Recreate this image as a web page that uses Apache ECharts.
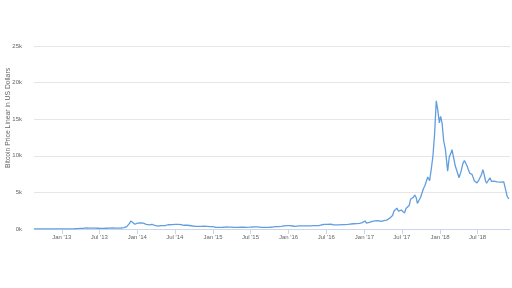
<!DOCTYPE html>
<html><head><meta charset="utf-8">
<script src="https://cdn.jsdelivr.net/npm/echarts@6/dist/echarts.min.js"></script>
<style>html,body{margin:0;padding:0;background:#fff}#c{width:512px;height:288px}</style>
</head><body><div id="c"></div>
<script>
const dates = [
 '2012-08-20','2012-09-03','2012-09-17','2012-10-01','2012-10-15','2012-10-29','2012-11-12','2012-11-26','2012-12-10','2012-12-24',
 '2013-01-07','2013-01-21','2013-02-04','2013-02-18','2013-03-04','2013-03-18','2013-04-01','2013-04-08','2013-04-15','2013-04-29',
 '2013-05-13','2013-05-27','2013-06-10','2013-06-24','2013-07-08','2013-07-22','2013-08-05','2013-08-19','2013-09-02','2013-09-16',
 '2013-09-30','2013-10-14','2013-10-28','2013-11-04','2013-11-11','2013-11-18','2013-11-25','2013-11-30','2013-12-05','2013-12-10',
 '2013-12-16','2013-12-20','2013-12-26',
 '2014-01-02','2014-01-09','2014-01-16','2014-01-23','2014-01-30','2014-02-06','2014-02-13','2014-02-20','2014-02-27','2014-03-06',
 '2014-03-13','2014-03-20','2014-03-27','2014-04-03','2014-04-10','2014-04-17','2014-04-24','2014-05-01','2014-05-15','2014-05-29',
 '2014-06-05','2014-06-19','2014-07-03','2014-07-17','2014-07-31','2014-08-14','2014-08-28','2014-09-11','2014-09-25','2014-10-09',
 '2014-10-23','2014-11-06','2014-11-20','2014-12-04','2014-12-18',
 '2015-01-01','2015-01-08','2015-01-15','2015-01-22','2015-02-05','2015-02-19','2015-03-05','2015-03-19','2015-04-02','2015-04-16',
 '2015-04-30','2015-05-14','2015-05-28','2015-06-11','2015-06-25','2015-07-09','2015-07-23','2015-08-06','2015-08-20','2015-09-03',
 '2015-09-17','2015-10-01','2015-10-15','2015-10-29','2015-11-05','2015-11-12','2015-11-26','2015-12-10','2015-12-24',
 '2016-01-07','2016-01-21','2016-02-04','2016-02-18','2016-03-03','2016-03-17','2016-03-31','2016-04-14','2016-04-28','2016-05-12',
 '2016-05-26','2016-06-09','2016-06-16','2016-06-23','2016-07-07','2016-07-21','2016-08-04','2016-08-18','2016-09-01','2016-09-15',
 '2016-09-29','2016-10-13','2016-10-27','2016-11-10','2016-11-24','2016-12-08','2016-12-22',
 '2017-01-04','2017-01-11','2017-01-18','2017-01-25','2017-02-01','2017-02-08','2017-02-15','2017-02-22','2017-03-01','2017-03-08',
 '2017-03-15','2017-03-22','2017-03-29','2017-04-05','2017-04-12','2017-04-19','2017-04-26','2017-05-03','2017-05-10','2017-05-17',
 '2017-05-24','2017-05-31','2017-06-07','2017-06-14','2017-06-21','2017-06-28','2017-07-05','2017-07-14','2017-07-21','2017-07-28',
 '2017-08-05','2017-08-12','2017-08-19','2017-08-26','2017-09-01','2017-09-08','2017-09-14','2017-09-21','2017-09-29','2017-10-06',
 '2017-10-13','2017-10-20','2017-10-27','2017-11-03','2017-11-12','2017-11-20','2017-11-28','2017-12-06','2017-12-14','2017-12-21',
 '2017-12-29',
 '2018-01-04','2018-01-11','2018-01-19','2018-01-27','2018-02-07','2018-02-15','2018-02-22','2018-02-28','2018-03-08','2018-03-16',
 '2018-03-24','2018-04-03','2018-04-13','2018-04-21','2018-04-29','2018-05-12','2018-05-18','2018-05-25','2018-06-05','2018-06-16',
 '2018-06-29','2018-07-06','2018-07-12','2018-07-20','2018-07-27','2018-08-02','2018-08-09','2018-08-14','2018-08-20','2018-08-30',
 '2018-09-07','2018-09-13','2018-09-18','2018-09-26','2018-10-04','2018-10-12','2018-10-20','2018-10-28','2018-11-05','2018-11-13',
 '2018-11-21','2018-11-29'
];
const prices = [
 10.5,10.6,11.9,12.4,11.8,10.8,11,12.3,13.4,13.4,
 13.6,17,20,26,35,47,93,185,90,140,
 115,130,108,104,76,90,105,116,143,126,
 125,139,190,220,330,600,800,1100,1050,900,
 700,650,760,
 800,860,830,810,800,760,640,580,560,660,
 630,590,480,450,400,500,460,450,450,580,
 650,600,640,620,590,510,510,480,410,360,
 360,345,380,370,320,
 315,285,210,230,220,240,270,255,250,222,
 235,238,237,230,243,270,277,280,230,230,
 232,238,255,315,400,335,360,415,455,
 450,410,370,420,420,415,415,424,448,455,
 470,580,730,630,640,665,580,575,570,608,
 605,637,680,715,740,770,870,
 1100,790,880,895,980,1050,1010,1120,1220,1150,
 1250,1040,1040,1130,1200,1210,1310,1480,1750,1850,
 2450,2300,2850,2450,2700,2580,2600,2200,2800,2750,
 3200,4050,4150,4350,4650,4300,3500,3900,4300,4400,
 5500,5900,5800,7100,6600,8200,10000,13000,17500,16300,
 14500,
 15400,14500,12000,10900,7900,9900,10300,10850,9700,8600,
 8800,7000,7900,8900,9360,8600,8100,7600,7460,6550,
 6300,6600,6550,7400,8100,7500,6550,6250,6400,7000,
 6500,6450,6550,6500,6450,6300,6400,6350,6450,6250,
 4500,4100
];
const tickDates = ['2013-01-01','2013-07-01','2014-01-01','2014-07-01','2015-01-01','2015-07-01',
                   '2016-01-01','2016-07-01','2017-01-01','2017-07-01','2018-01-01','2018-07-01'];
const tickLabels = ["Jan '13","Jul '13","Jan '14","Jul '14","Jan '15","Jul '15",
                    "Jan '16","Jul '16","Jan '17","Jul '17","Jan '18","Jul '18"];
const yTickValues = [0,5000,10000,15000,20000,25000];
const yTickLabels = ['0k','5k','10k','15k','20k','25k'];
const yTitle = 'Bitcoin Price Linear in US Dollars';
const xMin = '2012-08-20', xMax = '2018-12-05';

function t(s){const p=s.split('-');return Date.UTC(+p[0],+p[1]-1,+p[2]);}
const tickVals = tickDates.map(t);
const seriesData = dates.map((d,i)=>[t(d),prices[i]]);

const chart = echarts.init(document.getElementById('c'), null, {renderer:'canvas'});
const font = 'Liberation Sans, Arial, sans-serif';
chart.setOption({
  animation:false,
  backgroundColor:'#fff',
  grid:{left:34,right:2,top:46,bottom:59,containLabel:false},
  xAxis:{
    type:'value', min:t(xMin), max:t(xMax), scale:true,
    axisLine:{show:true,lineStyle:{color:'#ccd6eb',width:1}},
    axisTick:{show:true,customValues:tickVals,length:5,lineStyle:{color:'#ccd6eb'}},
    axisLabel:{customValues:tickVals,color:'#666',fontSize:6,fontFamily:font,margin:5,
      formatter:function(v){let best=0,bd=Infinity;tickVals.forEach((tv,i)=>{const d=Math.abs(tv-v);if(d<bd){bd=d;best=i;}});return tickLabels[best];}},
    splitLine:{show:false}
  },
  yAxis:{
    type:'value',min:0,max:25000,interval:5000,
    axisLine:{show:false},axisTick:{show:false},
    axisLabel:{color:'#666',fontSize:6,fontFamily:font,margin:12,padding:[0,0,3,0],
      formatter:function(v){const i=yTickValues.indexOf(v);return i>=0?yTickLabels[i]:'';}},
    splitLine:{lineStyle:{color:'#e6e6e6',width:1}}
  },
  graphic:[{type:'text',x:8,y:118,rotation:Math.PI/2,
    style:{text:yTitle,fill:'#666',fontSize:6.8,fontFamily:font,textAlign:'center',textVerticalAlign:'middle'}}],
  series:[{type:'line',data:seriesData,showSymbol:false,symbol:'none',
    lineStyle:{color:'#619ee0',width:1.3},itemStyle:{color:'#619ee0'}}]
});
</script></body></html>
